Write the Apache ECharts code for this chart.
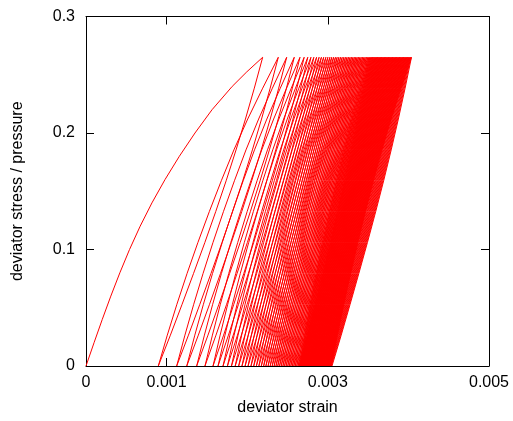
<!DOCTYPE html>
<html>
<head>
<meta charset="utf-8">
<script src="https://cdn.jsdelivr.net/npm/echarts@6/dist/echarts.min.js"></script>
<style>
  html, body { margin: 0; padding: 0; background: #fff; }
  #chart { width: 513px; height: 421px; }
</style>
</head>
<body>
<div id="chart"></div>
<script>
// first loading curve (strain in 1e-3, stress ratio)
const loadStrain = [0, 0.100, 0.202, 0.308, 0.420, 0.540, 0.672, 0.818, 0.980, 1.158, 1.352, 1.564, 1.814, 1.995, 2.192];
const loadStress = [0, 0.02, 0.04, 0.06, 0.08, 0.10, 0.12, 0.14, 0.16, 0.18, 0.20, 0.22, 0.24, 0.2525, 0.265];

// strain at each peak of the cycles (1e-3)
const peakStrain = [2.192, 2.386, 2.490, 2.584, 2.655, 2.707, 2.752, 2.791, 2.827, 2.861, 2.892, 2.921, 2.949, 2.976, 3.001,
  3.026, 3.049, 3.072, 3.095, 3.116, 3.137, 3.158, 3.179, 3.199, 3.219, 3.238, 3.257, 3.276, 3.294, 3.312, 3.330, 3.347,
  3.364, 3.381, 3.398, 3.415, 3.432, 3.448, 3.464, 3.480, 3.496, 3.510, 3.522, 3.534, 3.545, 3.556, 3.566, 3.577, 3.587,
  3.597, 3.607, 3.617, 3.627, 3.637, 3.647, 3.657, 3.666, 3.676, 3.686, 3.696, 3.706, 3.715, 3.725, 3.735, 3.745, 3.755,
  3.764, 3.774, 3.784, 3.794, 3.804, 3.813, 3.823, 3.833, 3.843, 3.852, 3.862, 3.872, 3.882, 3.891, 3.901, 3.911, 3.921,
  3.930, 3.940, 3.950, 3.960, 3.969, 3.979, 3.989, 3.999, 4.008, 4.018, 4.028, 4.038];
// strain where each unloading reaches zero stress (1e-3)
const baseStrain = [0.897, 1.125, 1.250, 1.373, 1.476, 1.576, 1.638, 1.700, 1.755, 1.805, 1.851, 1.894, 1.935, 1.974, 2.011,
  2.047, 2.081, 2.114, 2.145, 2.175, 2.204, 2.232, 2.259, 2.285, 2.310, 2.334, 2.357, 2.379, 2.401, 2.422, 2.443, 2.463,
  2.483, 2.503, 2.522, 2.541, 2.560, 2.578, 2.596, 2.614, 2.631, 2.645, 2.653, 2.661, 2.668, 2.676, 2.684, 2.691, 2.699,
  2.707, 2.714, 2.722, 2.730, 2.737, 2.745, 2.753, 2.760, 2.768, 2.776, 2.783, 2.791, 2.799, 2.806, 2.814, 2.822, 2.829,
  2.837, 2.845, 2.852, 2.860, 2.868, 2.875, 2.883, 2.891, 2.898, 2.906, 2.914, 2.921, 2.929, 2.937, 2.944, 2.952, 2.960,
  2.967, 2.975, 2.983, 2.990, 2.998, 3.006, 3.013, 3.021, 3.029, 3.036, 3.044, 3.052];
const peakStress = 0.265;

// shape of the branches: [strain fraction, stress fraction]
const unloadShape = [[1, 1], [0.92, 0.9], [0.835, 0.8], [0.745, 0.7], [0.65, 0.6], [0.55, 0.5],
  [0.446, 0.4], [0.338, 0.3], [0.228, 0.2], [0.116, 0.1], [0, 0]];
const reloadShape = [[0, 0], [0.075, 0.1], [0.155, 0.2], [0.24, 0.3], [0.33, 0.4], [0.425, 0.5],
  [0.525, 0.6], [0.63, 0.7], [0.745, 0.8], [0.87, 0.9], [1, 1]];

const xTicks = [0, 0.001, 0.003, 0.005];

const pts = loadStrain.map((e, i) => [e * 1e-3, loadStress[i]]);
const n = Math.min(peakStrain.length, baseStrain.length);
for (let i = 0; i < n; i++) {
  const p = peakStrain[i], b = baseStrain[i];
  unloadShape.slice(1).forEach(([f, s]) => pts.push([(b + f * (p - b)) * 1e-3, s * peakStress]));
  if (i < n - 1) {
    const p2 = peakStrain[i + 1];
    reloadShape.slice(1).forEach(([f, s]) => pts.push([(b + f * (p2 - b)) * 1e-3, s * peakStress]));
  }
}

const font = 'Liberation Sans, Arial, sans-serif';
const line = { show: true, onZero: false, lineStyle: { color: '#000', width: 1 } };
const tick = { show: true, inside: true, length: 8, lineStyle: { color: '#000' } };

const chart = echarts.init(document.getElementById('chart'), null, { renderer: 'canvas' });
chart.setOption({
  animation: false,
  backgroundColor: '#fff',
  grid: { left: 86, right: 24, top: 16.5, bottom: 51.7, containLabel: false },
  xAxis: [
    {
      type: 'value', min: 0, max: 0.005, position: 'bottom',
      name: 'deviator strain', nameLocation: 'middle', nameGap: 34,
      nameTextStyle: { fontFamily: font, fontSize: 16, color: '#000' },
      axisLine: line,
      axisTick: Object.assign({ customValues: xTicks }, tick),
      axisLabel: { customValues: xTicks, fontFamily: font, fontSize: 16, color: '#000', margin: 9 },
      splitLine: { show: false }
    },
    {
      type: 'value', min: 0, max: 0.005, position: 'top',
      axisLine: line,
      axisTick: Object.assign({ customValues: xTicks }, tick),
      axisLabel: { show: false },
      splitLine: { show: false }
    }
  ],
  yAxis: [
    {
      type: 'value', min: 0, max: 0.3, interval: 0.1, position: 'left',
      name: 'deviator stress / pressure', nameLocation: 'middle', nameGap: 60,
      nameTextStyle: { fontFamily: font, fontSize: 16, color: '#000' },
      axisLine: line, axisTick: tick,
      axisLabel: { fontFamily: font, fontSize: 16, color: '#000', margin: 11 },
      splitLine: { show: false }
    },
    {
      type: 'value', min: 0, max: 0.3, interval: 0.1, position: 'right',
      axisLine: line, axisTick: tick,
      axisLabel: { show: false },
      splitLine: { show: false }
    }
  ],
  series: [
    {
      type: 'line',
      data: pts,
      xAxisIndex: 0, yAxisIndex: 0,
      showSymbol: false,
      symbol: 'none',
      lineStyle: { color: '#ff0000', width: 1 },
      emphasis: { disabled: true }
    }
  ]
});
</script>
</body>
</html>
